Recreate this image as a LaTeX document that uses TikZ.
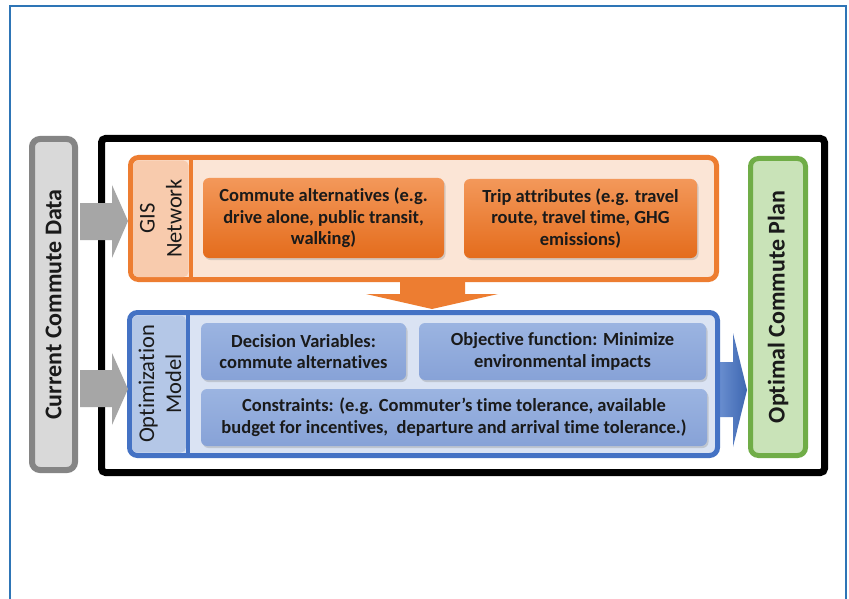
\documentclass[tikz,border=0pt]{standalone}
\usepackage{fontspec}
\setmainfont[Ligatures={NoCommon}]{Carlito}
\usetikzlibrary{shadows}
\definecolor{frameblue}{HTML}{2E75B6}
\definecolor{orgline}{HTML}{ED7D31}
\definecolor{orgfill}{HTML}{FBE5D6}
\definecolor{orgpanel}{HTML}{F8CBAD}
\definecolor{orgtop}{HTML}{F3985A}
\definecolor{orgbot}{HTML}{E46C1C}
\definecolor{blline}{HTML}{4472C4}
\definecolor{blfill}{HTML}{DAE3F3}
\definecolor{blpanel}{HTML}{B4C7E7}
\definecolor{bltop}{HTML}{9BB4E1}
\definecolor{blbot}{HTML}{87A2D7}
\definecolor{grline}{HTML}{70AD47}
\definecolor{grfill}{HTML}{C9E3B8}
\definecolor{gyline}{HTML}{858585}
\definecolor{gyfill}{HTML}{D9D9D9}
\definecolor{gyarrow}{HTML}{A6A6A6}
\definecolor{txt}{HTML}{1A1A1A}
\begin{document}
\begin{tikzpicture}[x=1pt,y=-1pt,
  boxfont/.style={font=\fontsize{18.5}{21.7}\selectfont\bfseries, text=txt},
  bigfont/.style={font=\fontsize{24}{28}\selectfont\bfseries, text=txt},
  labfont/.style={font=\fontsize{22.5}{27}\selectfont, text=txt},
  sidebox/.style={draw=gyline, fill=gyfill, line width=6pt, rounded corners=8pt, inner sep=0pt, bigfont, rotate=90},
  planbox/.style={draw=grline, fill=grfill, line width=5pt, rounded corners=8pt, inner sep=0pt, bigfont, rotate=90},
  container/.style={line width=5pt, rounded corners=8pt, inner sep=0pt},
  orgbox/.style={top color=orgtop, bottom color=orgbot, rounded corners=6pt, inner sep=0pt, align=center, boxfont,
    drop shadow={shadow xshift=1.5pt, shadow yshift=-2pt, opacity=0.3}},
  blbox/.style={top color=bltop, bottom color=blbot, rounded corners=6pt, inner sep=0pt, align=center, boxfont,
    drop shadow={shadow xshift=1.5pt, shadow yshift=-2pt, opacity=0.3}},
  labeltext/.style={labfont, align=center, rotate=90, inner sep=0pt}
]
\useasboundingbox (0,0) rectangle (849,599);
\fill[white] (0,0) rectangle (849,599);
% outer frame
\draw[frameblue, line width=1.5pt] (10,610) -- (10,6) -- (846,6) -- (846,610);

% left data box
\node[sidebox, minimum width=331pt, minimum height=43pt] (cur) at (53.5,304.5) {Current Commute Data};

% black frame
\node[draw=black, line width=7pt, rounded corners=4pt, minimum width=723pt, minimum height=334pt, inner sep=0pt] (frame) at (463,305.5) {};

% blue right arrow (behind container)
\shade[left color=blline!80!white, right color=blline!90!black]
  (719,362) -- (733,362) -- (733,333) -- (747,390) -- (733,447) -- (733,417) -- (719,417) -- cycle;

% GIS container
\node[container, draw=orgline, fill=orgfill, minimum width=586pt, minimum height=122pt] (gis) at (423.5,218.5) {};
\fill[orgpanel, rounded corners=5pt] (133,160.5) -- (188.5,160.5) -- (188.5,277) -- (133,277) -- cycle;
\draw[orgline, line width=4pt] (190.5,158) -- (190.5,279.5);
\node[labeltext] (gislab) at (161,218.5) {GIS\\Network};

\node[orgbox, minimum width=241pt, minimum height=80pt] (alt) at (323.5,218) {Commute alternatives (e.g.\\drive alone, public transit,\\walking)};
\node[orgbox, minimum width=233pt, minimum height=79pt] (trip) at (580.5,218.5) {Trip attributes (e.g. travel\\route, travel time, GHG\\emissions)};

% Optimization container
\node[container, draw=blline, fill=blfill, minimum width=588pt, minimum height=143pt] (opt) at (423.5,384) {};
\fill[blpanel, rounded corners=5pt] (132,315.5) -- (186,315.5) -- (186,452.5) -- (132,452.5) -- cycle;
\draw[blline, line width=4pt] (188,313) -- (188,455);
\node[labeltext] (optlab) at (160,384) {Optimization\\Model};

\node[blbox, minimum width=205pt, minimum height=57pt] (dec) at (303.5,351.5) {Decision Variables:\\commute alternatives};
\node[blbox, minimum width=287pt, minimum height=57pt] (obj) at (562.5,351.5) {Objective function: Minimize\\environmental impacts};
\node[blbox, minimum width=506pt, minimum height=57pt] (con) at (454,417.5) {Constraints: (e.g. Commuter’s time tolerance, available\\budget for incentives,\ \ departure and arrival time tolerance.)};

% green plan box
\node[planbox, minimum width=297pt, minimum height=55pt] (plan) at (778,307) {Optimal Commute Plan};

% gray input arrows
\fill[gyarrow] (80,203) -- (112,203) -- (112,185) -- (128,221) -- (112,258) -- (112,240) -- (80,240) -- cycle;
\fill[gyarrow] (80,370) -- (112,370) -- (112,353) -- (128,389) -- (112,425) -- (112,407) -- (80,407) -- cycle;

% orange down arrow
\fill[orgline] (400,281.5) -- (465,281.5) -- (465,294) -- (498,294) -- (432,309) -- (366,294) -- (400,294) -- cycle;
\end{tikzpicture}
\end{document}
